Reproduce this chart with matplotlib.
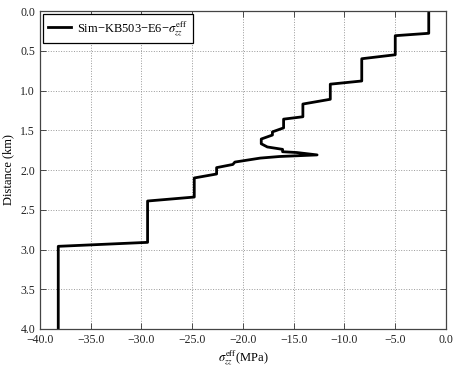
import matplotlib
matplotlib.use("Agg")
import matplotlib.pyplot as plt
import numpy as np

plt.rcParams['font.family'] = ['Liberation Serif', 'DejaVu Serif']
plt.rcParams['mathtext.fontset'] = 'stix'

# effective vertical stress profile
stress = [-1.7, -1.7, -5.0, -5.0, -8.3, -8.3, -11.4, -11.4, -14.1, -14.1,
          -16.0, -16.0, -17.1, -17.1, -18.2, -18.2, -17.6, -16.1, -16.1,
          -14.7, -12.7, -16.4, -18.3, -20.8, -21.0, -22.6, -22.6, -24.8,
          -24.8, -29.4, -29.4, -38.2, -38.2]
depth = [0.0, 0.28, 0.31, 0.55, 0.60, 0.88, 0.92, 1.11, 1.17, 1.33,
         1.36, 1.47, 1.52, 1.56, 1.61, 1.67, 1.71, 1.74, 1.77,
         1.78, 1.81, 1.83, 1.85, 1.90, 1.93, 1.97, 2.05, 2.10,
         2.34, 2.39, 2.91, 2.96, 4.0]

xticks = [-40.0, -35.0, -30.0, -25.0, -20.0, -15.0, -10.0, -5.0, 0.0]
yticks = [0.0, 0.5, 1.0, 1.5, 2.0, 2.5, 3.0, 3.5, 4.0]

fig = plt.figure(figsize=(4.58, 3.68), dpi=100)
ax = fig.add_axes([0.0873, 0.106, 0.8865, 0.864])

ax.plot(stress, depth, color='black', lw=2,
        label='Sim\u2212KB503\u2212E6\u2212' + r'$\sigma_{zz}^{\rm eff}$')

ax.set_xlim(-40, 0)
ax.set_ylim(4, 0)
ax.set_xticks(xticks)
ax.set_yticks(yticks)
ax.set_xticklabels(["{:.1f}".format(v).replace("-", "\u2212") for v in xticks])
ax.set_yticklabels(["{:.1f}".format(v) for v in yticks])
ax.tick_params(direction='in', top=True, right=True, labelsize=8.5,
               length=4, width=0.6, colors='#333333', labelcolor='#222222')
for s in ax.spines.values():
    s.set_linewidth(0.9)
    s.set_color('#444444')

ax.grid(True, linestyle=':', color='#999999', lw=0.7)

ax.set_xlabel(r'$\sigma_{zz}^{\rm eff}$(MPa)', fontsize=9, labelpad=2)
ax.set_ylabel('Distance (km)', fontsize=9, labelpad=4)

leg = ax.legend(loc='upper left', fontsize=9, fancybox=False,
                edgecolor='black', framealpha=1, handlelength=1.85,
                borderaxespad=0.25, handletextpad=0.5)
leg.get_frame().set_linewidth(0.9)

fig.savefig("out.png", dpi=100)
